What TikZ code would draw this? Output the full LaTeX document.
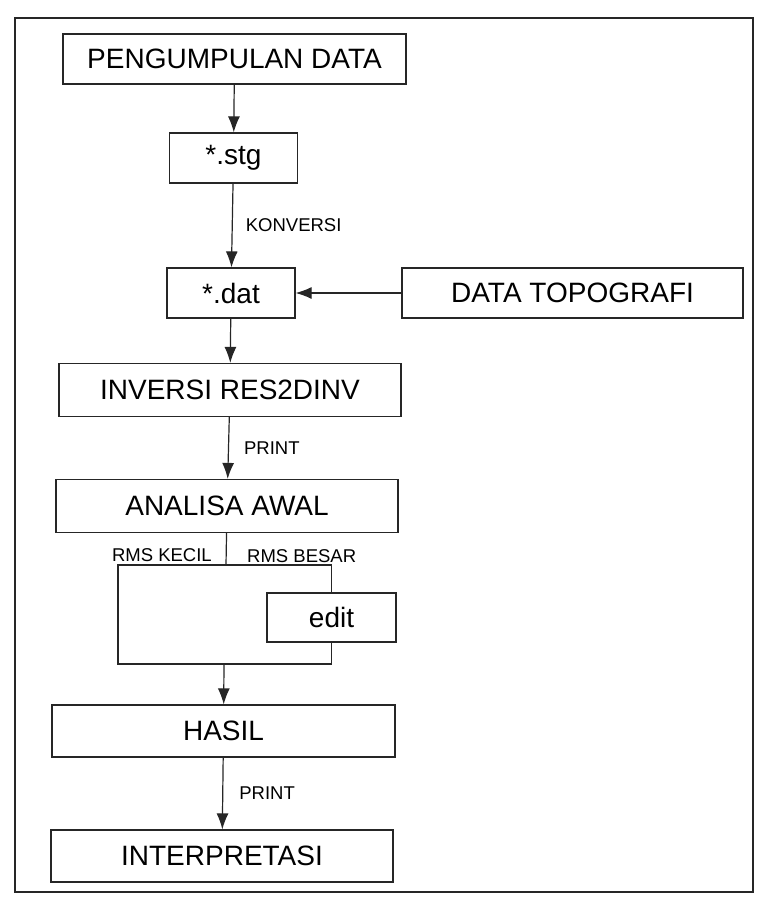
\documentclass[tikz,border=0pt]{standalone}
\usepackage{fontspec}
\setmainfont{Liberation Sans}
\usetikzlibrary{arrows.meta}

\begin{document}
\begin{tikzpicture}[x=1pt,y=-1pt,draw=black!85]

                    \tikzset{box/.style = {shape=rectangle,draw,line width=1.2pt,inner sep=0pt,font=\fontsize{28}{30}\selectfont}}
                    \tikzset{edge/.style = {->,> = {Latex[length=16pt,width=12pt]},line width=1.2pt}}
                    \tikzset{wire/.style = {line width=1.2pt}}
                    \tikzset{note/.style = {inner sep=0pt,font=\fontsize{18.5}{20}\selectfont}}

                    \useasboundingbox (0,0) rectangle (757,902);
                    \draw[line width=1.5pt] (15,18) rectangle (753,892);

                    \node[box,minimum width=343pt,minimum height=50pt] (pd) at (234.5,59) {PENGUMPULAN DATA};
                    \node[box,minimum width=128pt,minimum height=50pt] (stg) at (233.5,158) {*.stg};
                    \node[box,minimum width=128pt,minimum height=50pt] (dat) at (231,293) {*.dat};
                    \node[box,minimum width=341pt,minimum height=50pt] (topo) at (572.5,293) {DATA TOPOGRAFI};
                    \node[box,minimum width=342pt,minimum height=53pt] (inv) at (230,390) {INVERSI RES2DINV};
                    \node[box,minimum width=342pt,minimum height=53pt] (ana) at (227,506) {ANALISA AWAL};
                    \node[box,minimum width=129pt,minimum height=49pt] (edit) at (331.5,617.5) {edit};
                    \node[box,minimum width=343pt,minimum height=52pt] (hasil) at (223.5,731) {HASIL};
                    \node[box,minimum width=342pt,minimum height=52pt] (interp) at (222,856) {INTERPRETASI};

                    \coordinate (split) at (226,565);
                    \coordinate (loopL) at (118,565);
                    \coordinate (merge) at (224,664);

                    \draw[edge] (pd) to (stg);
                    \draw[edge] (stg) to node[note,right=13pt] {KONVERSI} (dat);
                    \draw[edge] (topo) to (dat);
                    \draw[edge] (dat) to (inv);
                    \draw[edge] (inv) to node[note,right=15pt] {PRINT} (ana);

                    % RMS branch round the edit box
                    \draw[wire] (ana) to (split);
                    \node[note,anchor=south east,xshift=-14pt,yshift=3pt] (kecil) at (split) {RMS KECIL};
                    \node[note,anchor=south west,xshift=21pt,yshift=2pt] (besar) at (split) {RMS BESAR};
                    \draw[wire] (split) -| (edit.north);
                    \draw[wire] (edit.south) |- (merge);
                    \draw[wire] (split) -- (loopL) |- (merge);

                    \draw[edge] (merge) to (hasil);
                    \draw[edge] (hasil) to node[note,right=16pt] {PRINT} (interp);

\end{tikzpicture}
\end{document}
